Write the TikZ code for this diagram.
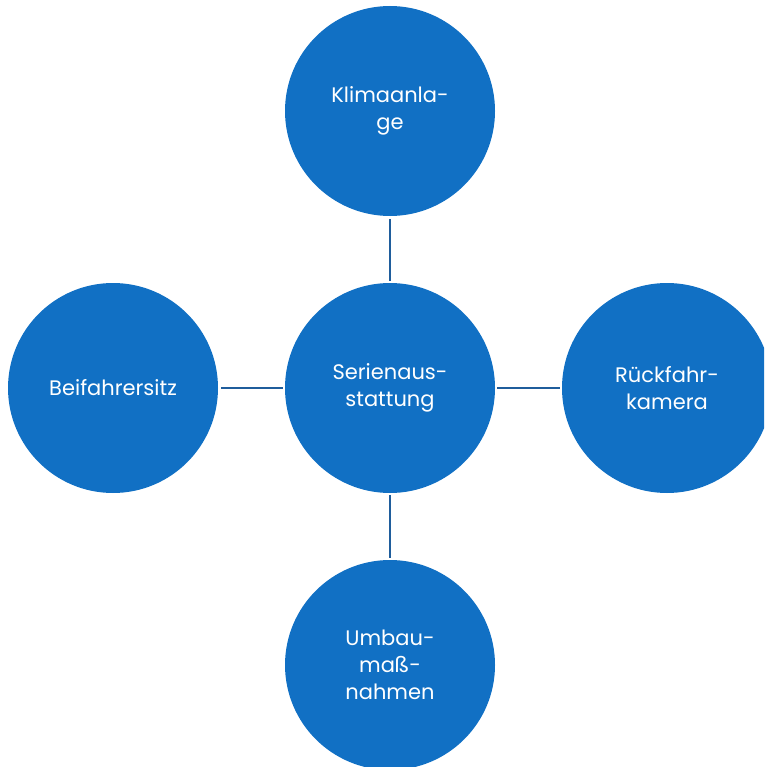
\documentclass[tikz,border=0pt]{standalone}
\usepackage{fontspec}
\setmainfont{Poppins}
\definecolor{circfill}{HTML}{1170C4}
\definecolor{linkcol}{HTML}{1F5D9C}
\begin{document}
\begin{tikzpicture}[x=1pt,y=-1pt,
  bubble/.style={circle,fill=circfill,minimum size=210pt,inner sep=0pt,text=white,align=center,font=\fontsize{21}{27}\selectfont},
  link/.style={draw=linkcol,line width=2.2pt}]
\useasboundingbox (0,0) rectangle (764,767);
\clip (0,0) rectangle (764,767);
\node[bubble] (c) at (390,388) {Serienaus-\\stattung};
\node[bubble] (t) at (390,111) {Klimaanla-\\ge};
\node[bubble] (l) at (113,388) {Beifahrersitz};
\node[bubble] (r) at (667,388) {Rückfahr-\\kamera};
\node[bubble] (b) at (390,665) {Umbau-\\maß-\\nahmen};
\draw[link,shorten >=2pt,shorten <=3pt] (t) -- (c);
\draw[link,shorten >=2pt,shorten <=3pt] (l) -- (c);
\draw[link,shorten >=2pt,shorten <=2pt] (c) -- (r);
\draw[link,shorten >=2pt,shorten <=2pt] (c) -- (b);
\end{tikzpicture}
\end{document}
